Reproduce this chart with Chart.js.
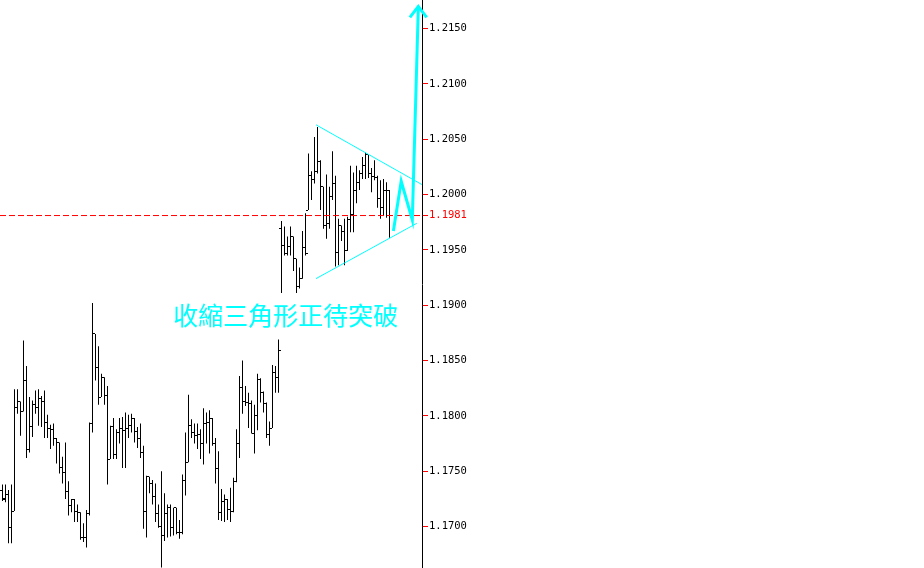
<!DOCTYPE html>
<html>
<head>
<meta charset="utf-8">
<script src="https://cdn.jsdelivr.net/npm/chart.js@4/dist/chart.umd.min.js"></script>
<style>
  html, body { margin: 0; padding: 0; background: #fff; }
  #wrap { width: 924px; height: 568px; }
</style>
</head>
<body>
<div id="wrap"><canvas id="priceChart"></canvas></div>
<script>
// ---- bars (one per period, oldest first) ----
var opens = [
  1.1733,1.1725,1.1729,1.1699,1.1714,1.1808,1.1813,1.1804,1.1832,1.1770,
  1.1790,1.1810,1.1808,1.1816,1.1813,1.1794,1.1789,1.1788,1.1780,1.1776,
  1.1753,1.1749,1.1732,1.1719,1.1724,1.1714,1.1713,1.1690,1.1690,1.1712,
  1.1793,1.1874,1.1844,1.1817,1.1835,1.1818,1.1761,1.1790,1.1765,1.1785,
  1.1789,1.1787,1.1789,1.1791,1.1798,1.1786,1.1780,1.1767,1.1714,1.1745,
  1.1739,1.1727,1.1712,1.1700,1.1692,1.1712,1.1717,1.1699,1.1717,1.1695,
  1.1695,1.1742,1.1758,1.1791,1.1785,1.1782,1.1783,1.1775,1.1793,1.1794,
  1.1798,1.1775,1.1752,1.1713,1.1723,1.1724,1.1715,1.1714,1.1741,1.1775,
  1.1826,1.1813,1.1812,1.1811,1.1784,1.1800,1.1833,1.1821,1.1811,1.1783,
  1.1789,1.1839,1.1835,1.1969,1.1954,1.1947,1.1953,1.1962,1.1942,1.1917,
  1.1924,1.1952,1.1986,1.2017,1.2014,1.2021,1.2030,1.2007,1.1972,1.1974,
  1.1998,1.2010,1.1948,1.1972,1.1967,1.1949,1.1977,1.1982,1.2004,1.2011,
  1.2019,1.2026,1.2036,1.2019,1.2016,1.2015,1.1996,1.1988,1.2004,1.2004
];
var highs = [
  1.1738,1.1738,1.1733,1.1738,1.1824,1.1824,1.1813,1.1868,1.1845,1.1817,
  1.1814,1.1823,1.1824,1.1818,1.1823,1.1801,1.1792,1.1793,1.1780,1.1776,
  1.1763,1.1776,1.1741,1.1725,1.1725,1.1720,1.1713,1.1703,1.1715,1.1794,
  1.1902,1.1874,1.1863,1.1838,1.1835,1.1827,1.1791,1.1798,1.1788,1.1798,
  1.1799,1.1803,1.1801,1.1802,1.1798,1.1790,1.1793,1.1773,1.1746,1.1745,
  1.1742,1.1739,1.1720,1.1750,1.1730,1.1720,1.1720,1.1717,1.1717,1.1706,
  1.1747,1.1785,1.1819,1.1797,1.1793,1.1793,1.1788,1.1807,1.1803,1.1805,
  1.1798,1.1780,1.1768,1.1734,1.1729,1.1725,1.1735,1.1744,1.1788,1.1836,
  1.1850,1.1827,1.1821,1.1814,1.1810,1.1838,1.1834,1.1822,1.1812,1.1795,
  1.1846,1.1845,1.1869,1.1976,1.1971,1.1962,1.1971,1.1962,1.1942,1.1934,
  1.1967,1.1983,1.2037,1.2021,1.2052,1.2061,1.2031,1.2007,1.2018,1.2007,
  1.2039,1.2017,1.1978,1.1972,1.1978,1.1980,1.2026,1.2020,1.2026,1.2022,
  1.2034,1.2038,1.2036,1.2024,1.2031,1.2017,1.2013,1.2014,1.2011,1.2004
];
var lows = [
  1.1723,1.1722,1.1685,1.1685,1.1714,1.1802,1.1782,1.1804,1.1762,1.1767,
  1.1781,1.1802,1.1791,1.1790,1.1780,1.1780,1.1770,1.1773,1.1757,1.1748,
  1.1739,1.1725,1.1710,1.1713,1.1704,1.1704,1.1688,1.1686,1.1681,1.1710,
  1.1785,1.1832,1.1810,1.1817,1.1810,1.1738,1.1761,1.1761,1.1761,1.1775,
  1.1753,1.1753,1.1780,1.1785,1.1776,1.1771,1.1762,1.1698,1.1690,1.1730,
  1.1720,1.1704,1.1699,1.1663,1.1687,1.1690,1.1691,1.1692,1.1693,1.1689,
  1.1693,1.1728,1.1758,1.1780,1.1775,1.1770,1.1761,1.1756,1.1775,1.1766,
  1.1773,1.1739,1.1706,1.1705,1.1704,1.1706,1.1704,1.1713,1.1740,1.1762,
  1.1802,1.1809,1.1789,1.1784,1.1766,1.1787,1.1812,1.1803,1.1780,1.1773,
  1.1789,1.1821,1.1821,1.1911,1.1945,1.1945,1.1945,1.1931,1.1911,1.1915,
  1.1924,1.1945,1.1986,1.1995,1.2010,1.2019,1.1986,1.1969,1.1960,1.1969,
  1.1995,1.1935,1.1936,1.1958,1.1936,1.1949,1.1966,1.1966,1.1992,1.2004,
  1.2014,1.2014,1.2015,1.2002,1.2013,1.1988,1.1978,1.1981,1.1979,1.1961
];
var closes = [
  1.1724,1.1729,1.1699,1.1714,1.1808,1.1813,1.1804,1.1832,1.1770,1.1790,
  1.1810,1.1808,1.1816,1.1813,1.1794,1.1789,1.1788,1.1780,1.1776,1.1753,
  1.1749,1.1732,1.1719,1.1724,1.1714,1.1713,1.1690,1.1690,1.1712,1.1793,
  1.1874,1.1844,1.1817,1.1835,1.1818,1.1761,1.1790,1.1765,1.1785,1.1789,
  1.1787,1.1789,1.1791,1.1798,1.1786,1.1780,1.1767,1.1714,1.1745,1.1739,
  1.1727,1.1712,1.1700,1.1692,1.1712,1.1717,1.1699,1.1717,1.1695,1.1695,
  1.1742,1.1758,1.1791,1.1785,1.1782,1.1783,1.1775,1.1793,1.1794,1.1798,
  1.1775,1.1752,1.1713,1.1723,1.1724,1.1715,1.1714,1.1741,1.1775,1.1826,
  1.1813,1.1812,1.1811,1.1784,1.1800,1.1833,1.1821,1.1811,1.1783,1.1789,
  1.1839,1.1835,1.1859,1.1954,1.1947,1.1953,1.1962,1.1942,1.1917,1.1924,
  1.1952,1.1947,1.2017,1.2014,1.2021,1.2030,1.2007,1.1972,1.1974,1.1998,
  1.2010,1.1948,1.1972,1.1967,1.1949,1.1977,1.1982,1.2004,1.2011,1.2019,
  1.2026,1.2036,1.2019,1.2016,1.2015,1.1996,1.1988,1.2004,1.2004,1.1981
];

// ---- price axis ----
var priceTicks = [1.1700, 1.1750, 1.1800, 1.1850, 1.1900, 1.1950, 1.2000, 1.2050, 1.2100, 1.2150];
var lastPrice = 1.1981;

// ---- drawings (bar index, price) ----
var triangleTop = [{x: 104.5, y: 1.2063}, {x: 139.8, y: 1.2009}];
var triangleBottom = [{x: 104.5, y: 1.1924}, {x: 138.1, y: 1.1974}];
var breakoutPath = [{x: 130.3, y: 1.1967}, {x: 132.9, y: 1.2012}, {x: 136.6, y: 1.1977}, {x: 138.6, y: 1.2168}];
var arrowHead = [{x: 135.8, y: 1.2160}, {x: 138.6, y: 1.2170}, {x: 141.4, y: 1.2160}];
var noteText = '收縮三角形正待突破';
var noteAt = {x: 56.9, y: 1.1891};

var CYAN = '#00FFFF';
var RED = '#FF0000';

var rangeData = highs.map(function (h, i) {
  return {x: i, y: [lows[i], h]};
});

// open tick on the left, close tick on the right of every bar
var ohlcTicks = {
  id: 'ohlcTicks',
  afterDatasetDraw: function (chart, args) {
    if (args.index !== 0) return;
    var ctx = chart.ctx, xs = chart.scales.x, ys = chart.scales.y;
    ctx.save();
    ctx.fillStyle = '#000';
    for (var i = 0; i < opens.length; i++) {
      var px = Math.round(xs.getPixelForValue(i) - 0.5);
      ctx.fillRect(px - 2, Math.round(ys.getPixelForValue(opens[i]) - 0.5), 2, 1);
      ctx.fillRect(px + 1, Math.round(ys.getPixelForValue(closes[i]) - 0.5), 2, 1);
    }
    ctx.restore();
  }
};

var noteLabel = {
  id: 'noteLabel',
  afterDatasetsDraw: function (chart) {
    var ctx = chart.ctx;
    ctx.save();
    ctx.fillStyle = CYAN;
    ctx.font = '25px "Noto Sans CJK TC"';
    ctx.textAlign = 'left';
    ctx.textBaseline = 'middle';
    ctx.fillText(noteText, chart.scales.x.getPixelForValue(noteAt.x), chart.scales.y.getPixelForValue(noteAt.y));
    ctx.restore();
  }
};

var ctx = document.getElementById('priceChart').getContext('2d');
var priceChart = new Chart(ctx, {
  type: 'bar',
  data: {
    datasets: [
      {
        data: rangeData,
        backgroundColor: '#000',
        borderWidth: 0,
        barThickness: 1,
        inflateAmount: 0,
        order: 10
      },
      {
        type: 'line',
        data: [{x: -0.8333, y: lastPrice}, {x: 139.8333, y: lastPrice}],
        borderColor: RED,
        borderWidth: 1,
        borderDash: [6, 3],
        pointRadius: 0,
        order: 2
      },
      {
        type: 'line',
        data: triangleTop,
        borderColor: CYAN,
        borderWidth: 1,
        pointRadius: 0,
        order: 1
      },
      {
        type: 'line',
        data: triangleBottom,
        borderColor: CYAN,
        borderWidth: 1,
        pointRadius: 0,
        order: 1
      },
      {
        type: 'line',
        data: breakoutPath,
        borderColor: CYAN,
        borderWidth: 3,
        pointRadius: 0,
        clip: false,
        order: 0
      },
      {
        type: 'line',
        data: arrowHead,
        borderColor: CYAN,
        borderWidth: 3,
        pointRadius: 0,
        clip: false,
        order: 0
      }
    ]
  },
  options: {
    responsive: true,
    maintainAspectRatio: false,
    devicePixelRatio: 1,
    animation: false,
    events: [],
    layout: { padding: 0 },
    plugins: {
      legend: { display: false },
      tooltip: { enabled: false }
    },
    scales: {
      x: {
        type: 'linear',
        min: -0.8333,
        max: 139.8333,
        offset: false,
        display: false
      },
      y: {
        type: 'linear',
        position: 'right',
        min: 1.166255,
        max: 1.217575,
        afterBuildTicks: function (scale) {
          scale.ticks = priceTicks.concat([lastPrice]).sort().map(function (v) {
            return {value: v};
          });
        },
        afterFit: function (scale) {
          scale.width = 502;
          scale.paddingTop = 0;
          scale.paddingBottom = 0;
        },
        border: { display: true, color: '#000', width: 1 },
        grid: {
          drawOnChartArea: false,
          tickColor: RED,
          tickLength: 6,
          tickWidth: 1
        },
        ticks: {
          autoSkip: false,
          padding: 1,
          color: function (c) {
            return c.tick && c.tick.value === lastPrice ? RED : '#000';
          },
          font: { family: '"DejaVu Sans Mono"', size: 10.5 },
          callback: function (v) { return Number(v).toFixed(4); }
        }
      }
    }
  },
  plugins: [ohlcTicks, noteLabel]
});
</script>
</body>
</html>
